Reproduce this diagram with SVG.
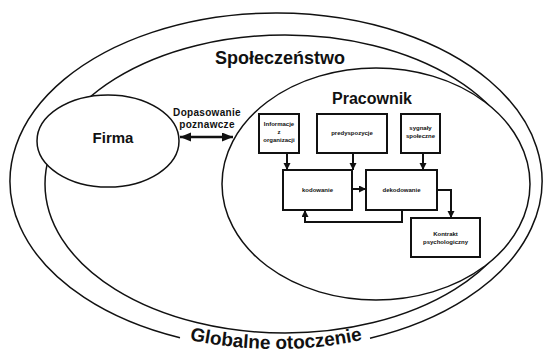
<svg xmlns="http://www.w3.org/2000/svg" width="543" height="352" viewBox="0 0 543 352">
<style>
.ring{fill:none;stroke:#111;stroke-width:1.5}
.fillring{fill:#fff;stroke:#111;stroke-width:1.5}
.box{fill:#fff;stroke:#111;stroke-width:2}
.con{fill:none;stroke:#111;stroke-width:2}
.big{font-family:"Liberation Sans",Arial,sans-serif;font-weight:bold;fill:#111;text-anchor:middle}
.sm{font-family:"Liberation Sans",Arial,sans-serif;font-weight:bold;font-size:6px;fill:#111;text-anchor:middle}
</style>
<defs>
<marker id="ah" markerUnits="userSpaceOnUse" markerWidth="8" markerHeight="8" refX="7" refY="3.5" orient="auto"><path d="M0,0 L7,3.5 L0,7 z" fill="#111"/></marker>
<marker id="bh" markerUnits="userSpaceOnUse" markerWidth="12" markerHeight="10" refX="11" refY="4.5" orient="auto-start-reverse"><path d="M0,0 L11,4.5 L0,9 z" fill="#111"/></marker>
<path id="gp" d="M 10 181 A 266 168 0 0 0 542 181"/>
</defs>
<g id="globalne">
<path class="ring" d="M 370 338.2 A 266 168 0 1 0 180 337.7"/>
<text class="big" font-size="19"><textPath href="#gp" startOffset="50%">Globalne otoczenie</textPath></text>
</g>
<g id="spoleczenstwo">
<ellipse class="ring" cx="285" cy="184" rx="240" ry="149"/>
<text class="big" x="280" y="64" font-size="18">Społeczeństwo</text>
</g>
<g id="firma">
<ellipse class="fillring" cx="108" cy="141" rx="71" ry="46"/>
<text class="big" x="113" y="143" font-size="15">Firma</text>
</g>
<g id="pracownik">
<ellipse class="fillring" cx="376" cy="184" rx="154" ry="116"/>
<text class="big" x="372" y="104" font-size="16">Pracownik</text>
</g>
<g id="informacje">
<rect class="box" x="259" y="114" width="40" height="39"/>
<text class="sm" x="279" y="126">Informacje</text>
<text class="sm" x="279" y="134">z</text>
<text class="sm" x="279" y="142">organizacji</text>
</g>
<g id="predyspozycje">
<rect class="box" x="317" y="114" width="70" height="39"/>
<text class="sm" x="352" y="135">predyspozycje</text>
</g>
<g id="sygnaly">
<rect class="box" x="401" y="114" width="39" height="39"/>
<text class="sm" x="420.5" y="130">sygnały</text>
<text class="sm" x="420.5" y="138">społeczne</text>
</g>
<g id="kodowanie">
<rect class="box" x="283" y="170" width="69" height="40"/>
<text class="sm" x="317.5" y="192">kodowanie</text>
</g>
<g id="dekodowanie">
<rect class="box" x="366" y="170" width="71" height="40"/>
<text class="sm" x="401.5" y="192">dekodowanie</text>
</g>
<g id="kontrakt">
<rect class="box" x="411" y="218" width="69" height="39"/>
<text class="sm" x="445.5" y="236">Kontrakt</text>
<text class="sm" x="445.5" y="244">psychologiczny</text>
</g>
<g id="connectors">
<path class="con" d="M 287 153 V 170" marker-end="url(#ah)"/>
<path class="con" d="M 353 153 V 170" marker-end="url(#ah)"/>
<path class="con" d="M 423 153 V 170" marker-end="url(#ah)"/>
<path class="con" d="M 352 189 H 366" marker-end="url(#ah)"/>
<path class="con" d="M 437 190 H 451 V 218" marker-end="url(#ah)"/>
<path class="con" d="M 402 210 V 222 H 305 V 210" marker-end="url(#ah)"/>
<path d="M 180 137 H 233" stroke="#111" stroke-width="2.5" fill="none" marker-start="url(#bh)" marker-end="url(#bh)"/>
<text class="big" x="207" y="116" font-size="10" letter-spacing="0.3">Dopasowanie</text>
<text class="big" x="207" y="128" font-size="10" letter-spacing="0.3">poznawcze</text>
</g>
</svg>
